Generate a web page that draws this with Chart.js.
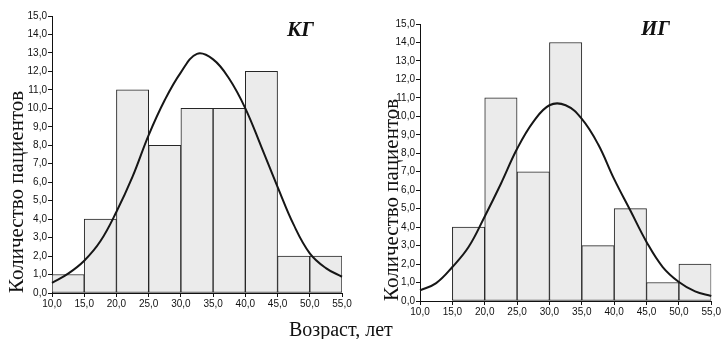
<!DOCTYPE html>
<html>
<head>
  <meta charset="UTF-8">
  <title>Возраст пациентов КГ и ИГ</title>
  <script src="https://cdn.jsdelivr.net/npm/chart.js"></script>
  <style>
    body {
      margin: 0;
      background: #fff;
      width: 722px;
      height: 339px;
      overflow: hidden;
      position: relative;
      font-family: "Liberation Serif", "Times New Roman", serif;
    }
    canvas { position: absolute; top: 0; }
    #chartKG { left: 0; }
    #chartIG { left: 360px; }
    .group-label {
      position: absolute;
      font-weight: bold;
      font-style: italic;
      font-size: 21px;
      color: #111;
      line-height: 21px;
    }
    #xTitle {
      position: absolute;
      left: 289px;
      top: 319px;
      font-size: 20px;
      line-height: 20px;
      color: #111;
      white-space: nowrap;
    }
  </style>
</head>
<body>
  <canvas id="chartKG" width="360" height="339"></canvas>
  <canvas id="chartIG" width="362" height="339"></canvas>
  <div class="group-label" style="left:287px; top:19px;">КГ</div>
  <div class="group-label" style="left:641px; top:18px;">ИГ</div>
  <div id="xTitle">Возраст, лет</div>

  <script>
    // bins of age, years (start of each 5-year interval)
    const binStarts = [10, 15, 20, 25, 30, 35, 40, 45, 50];
    const binWidth = 5;

    // number of patients per bin
    const countsKG = [1, 4, 11, 8, 10, 10, 12, 2, 2];
    const countsIG = [0, 4, 11, 7, 14, 3, 5, 1, 2];

    // normal curve
    const curveX = [10, 12.5, 15, 17.5, 20, 22.5, 25, 27.5, 30, 32.5, 35, 37.5, 40, 42.5, 45, 47.5, 50, 52.5, 55];
    const curveKG = [0.55, 1.05, 1.75, 2.8, 4.4, 6.3, 8.55, 10.45, 11.95, 12.95, 12.65, 11.6, 10.0, 7.9, 5.75, 3.7, 2.15, 1.35, 0.88];
    const curveIG = [0.58, 0.97, 1.84, 2.92, 4.58, 6.35, 8.24, 9.7, 10.6, 10.6, 9.86, 8.5, 6.6, 4.9, 3.2, 1.84, 1.03, 0.52, 0.27];

    const yTitle = 'Количество пациентов';

    const fmt = v => v.toFixed(1).replace('.', ',');

    function makeChart(id, counts, curve, pad, yWidth, xHeight, titlePad) {
      const ctx = document.getElementById(id).getContext('2d');
      return new Chart(ctx, {
        data: {
          datasets: [
            {
              type: 'line',
              data: curveX.map((x, i) => ({ x: x, y: curve[i] })),
              borderColor: '#161616',
              borderWidth: 2,
              pointRadius: 0,
              tension: 0.4,
              clip: false,
              order: 0
            },
            {
              type: 'bar',
              data: binStarts.map((s, i) => ({ x: s + binWidth / 2, y: counts[i] })),
              backgroundColor: '#ebebeb',
              borderColor: '#262626',
              borderWidth: 1,
              borderSkipped: false,
              barPercentage: 1,
              categoryPercentage: 1,
              order: 1
            }
          ]
        },
        options: {
          responsive: false,
          animation: false,
          layout: { padding: pad },
          plugins: {
            legend: { display: false },
            tooltip: { enabled: false }
          },
          scales: {
            x: {
              type: 'linear',
              min: 10,
              max: 55,
              offset: false,
              grid: { display: true, drawOnChartArea: false, offset: false, tickLength: 4, color: '#111' },
              border: { display: true, color: '#111', width: 1 },
              ticks: {
                stepSize: 5,
                padding: 1,
                maxRotation: 0,
                color: '#111',
                font: { family: 'Liberation Sans', size: 10 },
                callback: v => fmt(v)
              },
              afterFit: s => { s.height = xHeight; }
            },
            y: {
              min: 0,
              max: 15,
              grid: { display: true, drawOnChartArea: false, tickLength: 4, color: '#111' },
              border: { display: true, color: '#111', width: 1 },
              ticks: {
                stepSize: 1,
                padding: 1,
                color: '#111',
                font: { family: 'Liberation Sans', size: 10 },
                callback: v => fmt(v)
              },
              title: {
                display: true,
                text: yTitle,
                align: 'start',
                color: '#111',
                font: { family: 'Liberation Serif', size: 21 },
                padding: { top: titlePad, bottom: 0 }
              },
              afterFit: s => { s.width = yWidth; }
            }
          }
        }
      });
    }

    makeChart('chartKG', countsKG, curveKG, { top: 16, right: 18, left: 0, bottom: 0 }, 52, 46, 5);
    makeChart('chartIG', countsIG, curveIG, { top: 24, right: 10, left: 0, bottom: 0 }, 60, 38, 20);
  </script>
</body>
</html>
